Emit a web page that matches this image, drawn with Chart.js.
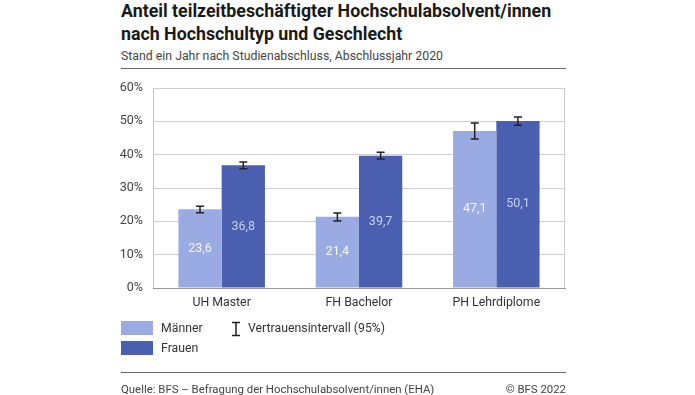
<!DOCTYPE html>
<html lang="de">
<head>
<meta charset="UTF-8">
<title>Anteil teilzeitbeschäftigter Hochschulabsolvent/innen</title>
<style>
  body { margin: 0; background: #fff; font-family: Roboto, Arial, sans-serif; color: #222; }
  #wrap { position: relative; width: 695px; height: 395px; overflow: hidden; }
  .abs { position: absolute; white-space: nowrap; }
  #title { left: 121px; top: -1px; font-size: 17.8px; font-weight: 700; line-height: 23px; color: #1a1a1a; }
  #subtitle { left: 121px; top: 49px; font-size: 12.3px; color: #444; }
  .rule { position: absolute; left: 121px; width: 445px; height: 1px; background: #666; }
  #chart { position: absolute; left: 0; top: 0; }
  .box { position: absolute; width: 32px; height: 14px; }
  .lg { font-size: 12.3px; color: #333; }
  .foot { font-size: 11.4px; color: #444; top: 382px; }
</style>
</head>
<body>
<div id="wrap">
  <div id="title" class="abs">Anteil teilzeitbeschäftigter Hochschulabsolvent/innen<br>nach Hochschultyp und Geschlecht</div>
  <div id="subtitle" class="abs">Stand ein Jahr nach Studienabschluss, Abschlussjahr 2020</div>
  <div class="rule" style="top:68px"></div>
  <canvas id="chart" width="695" height="395"></canvas>

  <div class="box" style="left:121px; top:321px; background:#9aabe3"></div>
  <div class="abs lg" style="left:161px; top:321px">Männer</div>
  <div class="box" style="left:121px; top:341px; background:#4a5fb0"></div>
  <div class="abs lg" style="left:161px; top:341px">Frauen</div>
  <svg class="abs" style="left:230px; top:321px" width="12" height="16">
    <path d="M2 1.5H10M6 1.5V14.5M2 14.5H10" stroke="#222" stroke-width="1.5" fill="none"/>
  </svg>
  <div class="abs lg" style="left:248px; top:321px">Vertrauensintervall (95%)</div>

  <div class="rule" style="top:372px"></div>
  <div class="abs foot" style="left:121px">Quelle: BFS – Befragung der Hochschulabsolvent/innen (EHA)</div>
  <div class="abs foot" style="right:129px">© BFS 2022</div>
</div>

<script src="https://cdn.jsdelivr.net/npm/chart.js"></script>
<script>
  const categories = ['UH Master', 'FH Bachelor', 'PH Lehrdiplome'];
  const maenner = [23.6, 21.4, 47.1];
  const frauen = [36.8, 39.7, 50.1];
  // Vertrauensintervall (95%)
  const maennerLow = [22.6, 20.1, 44.7];
  const maennerHigh = [24.5, 22.5, 49.5];
  const frauenLow = [35.8, 38.7, 48.8];
  const frauenHigh = [37.8, 40.7, 51.3];
  const yTicks = [0, 10, 20, 30, 40, 50, 60];

  const intervals = [[maennerLow, maennerHigh], [frauenLow, frauenHigh]];
  const labelColors = ['rgba(255,255,255,0.9)', '#c9d1f2'];

  const errorBars = {
    id: 'errorBars',
    afterDatasetsDraw(chart) {
      const ctx = chart.ctx;
      const y = chart.scales.y;
      ctx.save();
      chart.data.datasets.forEach((ds, di) => {
        const meta = chart.getDatasetMeta(di);
        meta.data.forEach((bar, i) => {
          // value labels in the middle of the bar
          ctx.fillStyle = labelColors[di];
          ctx.font = '12.5px Roboto, Arial, sans-serif';
          ctx.textAlign = 'center';
          ctx.textBaseline = 'middle';
          ctx.fillText(ds.data[i].toFixed(1).replace('.', ','), bar.x, (bar.y + bar.base) / 2);

          const top = y.getPixelForValue(intervals[di][1][i]);
          const bottom = y.getPixelForValue(intervals[di][0][i]);
          ctx.strokeStyle = '#222';
          ctx.lineWidth = 1.5;
          ctx.beginPath();
          ctx.moveTo(bar.x, top); ctx.lineTo(bar.x, bottom);
          ctx.moveTo(bar.x - 4, top); ctx.lineTo(bar.x + 4, top);
          ctx.moveTo(bar.x - 4, bottom); ctx.lineTo(bar.x + 4, bottom);
          ctx.stroke();
        });
      });
      ctx.restore();
    },
    beforeDatasetsDraw(chart) {
      // left and right frame of the plot area
      const a = chart.chartArea;
      const ctx = chart.ctx;
      ctx.save();
      ctx.strokeStyle = '#c8c8c8';
      ctx.lineWidth = 1;
      ctx.beginPath();
      ctx.moveTo(Math.round(a.left) + 0.5, a.top); ctx.lineTo(Math.round(a.left) + 0.5, a.bottom);
      ctx.moveTo(Math.round(a.right) - 0.5, a.top); ctx.lineTo(Math.round(a.right) - 0.5, a.bottom);
      ctx.stroke();
      ctx.restore();
    }
  };

  new Chart(document.getElementById('chart'), {
    type: 'bar',
    data: {
      labels: categories,
      datasets: [
        { label: 'Männer', data: maenner, backgroundColor: '#9aabe3' },
        { label: 'Frauen', data: frauen, backgroundColor: '#4a5fb0' }
      ]
    },
    options: {
      responsive: false,
      animation: false,
      layout: { padding: { top: 88, right: 130, bottom: 82, left: 0 } },
      datasets: { bar: { categoryPercentage: 0.63, barPercentage: 1 } },
      plugins: { legend: { display: false }, tooltip: { enabled: false } },
      scales: {
        x: {
          grid: { display: false },
          border: { display: true, color: '#999', width: 1 },
          ticks: { color: '#333', font: { family: 'Roboto', size: 12.3 }, padding: 0 },
          afterFit: s => { s.height = 25; }
        },
        y: {
          min: 0, max: 60,
          afterBuildTicks: s => { s.ticks = yTicks.map(v => ({ value: v })); },
          grid: { color: '#d0d0d0', drawTicks: false },
          border: { display: false },
          ticks: { color: '#444', font: { family: 'Roboto', size: 12.5 }, padding: 10, callback: v => v + '%' },
          afterFit: s => { s.width = 153; }
        }
      }
    },
    plugins: [errorBars]
  });
</script>
</body>
</html>
